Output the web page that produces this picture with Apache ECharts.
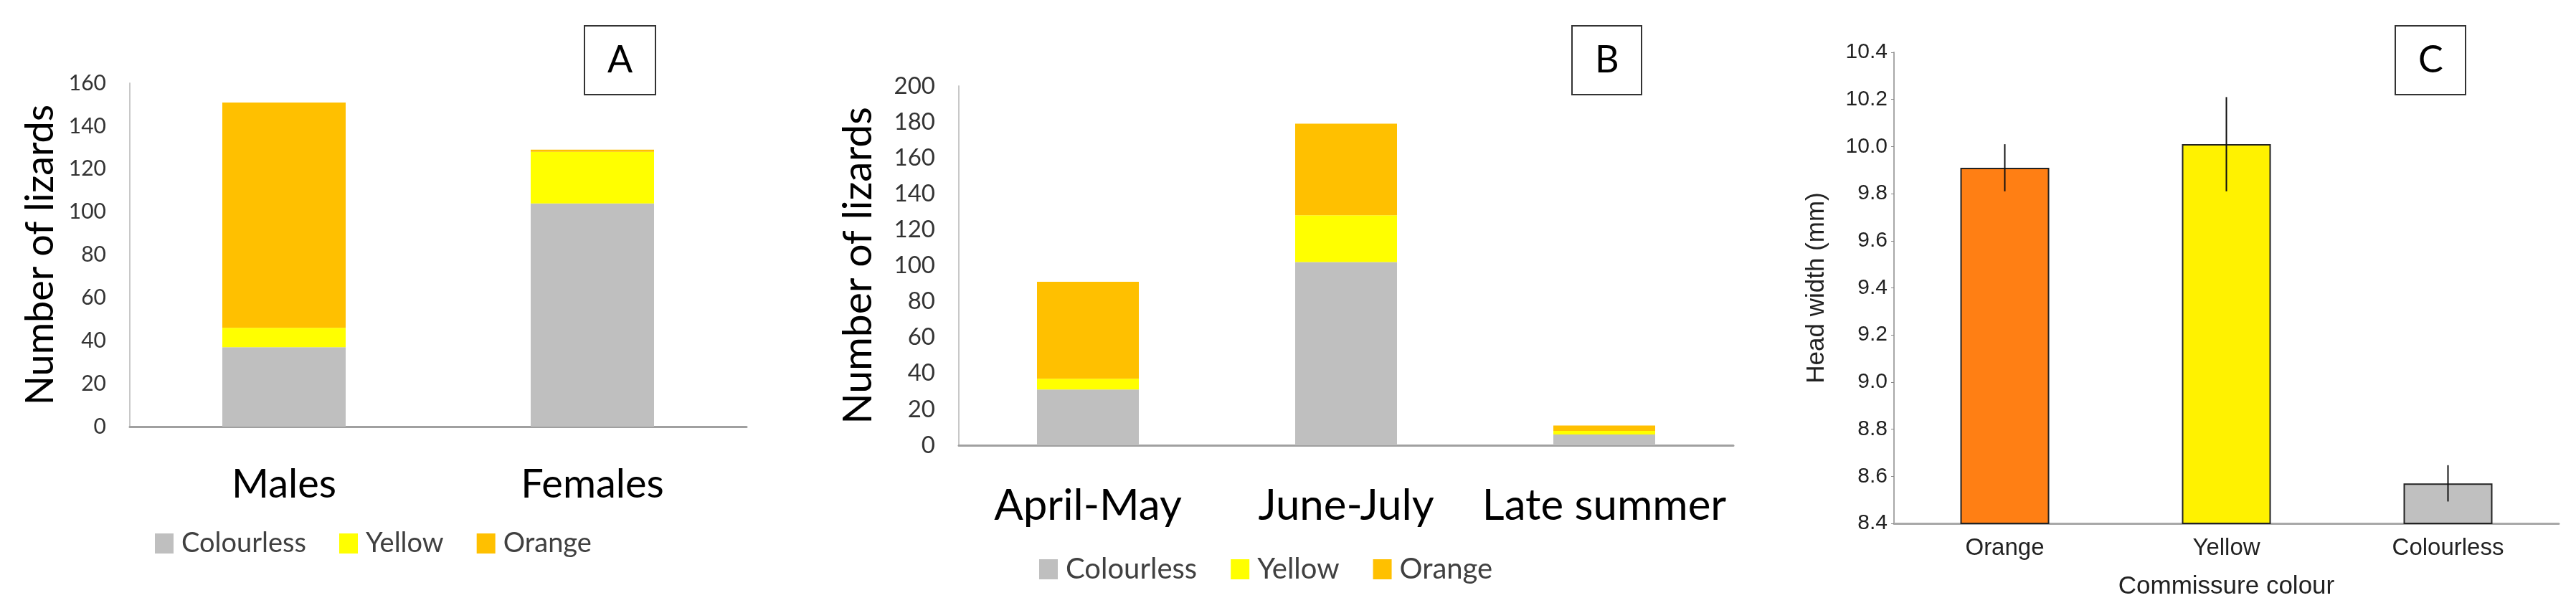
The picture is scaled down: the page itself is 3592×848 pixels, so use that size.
<!DOCTYPE html>
<html>
<head>
<meta charset="utf-8">
<script src="https://cdn.jsdelivr.net/npm/echarts@6/dist/echarts.min.js"></script>
<style>
  html, body { margin: 0; padding: 0; background: #fff; }
  #chart { width: 3592px; height: 848px; }
</style>
</head>
<body>
<div id="chart"></div>
<script>
// panel A: lizards by sex
var catA = ['Males', 'Females'];
var colourlessA = [37, 104];
var yellowA = [9, 24];
var orangeA = [105, 1];

// panel B: lizards by season
var catB = ['April-May', 'June-July', 'Late summer'];
var colourlessB = [31, 102, 6];
var yellowB = [6, 26, 2];
var orangeB = [54, 51, 3];

// panel C: head width by commissure colour (mean and error)
var catC = ['Orange', 'Yellow', 'Colourless'];
var meanC = [9.91, 10.01, 8.57];
var errC = [0.10, 0.20, 0.077];

var excelGrey = '#BFBFBF', excelYellow = '#FFFF00', excelOrange = '#FFC000';
var barColoursC = ['#FF7F14', '#FFF200', '#C0C0C0'];
var calibri = 'Lato';
var arial = 'Liberation Sans';

function countAxes(idx, cats, max, gapName, nameSize, catSize, catMargin, tickSize) {
  return {
    x: {
      type: 'category', gridIndex: idx, data: cats,
      axisLine: { lineStyle: { color: '#A0A0A0', width: 3 } },
      axisTick: { show: false },
      axisLabel: { interval: 0, fontFamily: calibri, fontSize: catSize, color: '#000', margin: catMargin }
    },
    y: {
      type: 'value', gridIndex: idx, min: 0, max: max, interval: 20,
      name: 'Number of lizards', nameLocation: 'middle', nameGap: gapName,
      nameTextStyle: { fontFamily: calibri, fontSize: nameSize, color: '#000' },
      axisLine: { show: true, lineStyle: { color: '#C8C8C8', width: 2 } },
      axisTick: { show: false },
      splitLine: { show: false },
      axisLabel: { fontFamily: calibri, fontSize: tickSize, color: '#333', margin: 33 }
    }
  };
}

var axA = countAxes(0, catA, 160, 97, 54, 56, 53, 30);
var axB = countAxes(1, catB, 200, 112, 57, 60, 55, 33);

function stackSeries(name, data, colour, idx, stack, width) {
  return {
    name: name, type: 'bar', stack: stack, xAxisIndex: idx, yAxisIndex: idx,
    data: data, barWidth: width, itemStyle: { color: colour }
  };
}

function boxTitle(letter, left) {
  return {
    text: letter, left: left, top: 36,
    borderColor: '#333', borderWidth: 2, padding: [21, 32],
    textStyle: { fontFamily: calibri, fontSize: 52, fontWeight: 'normal', color: '#000', lineHeight: 54 }
  };
}

function legendAt(left, top, size, gap) {
  return {
    data: ['Colourless', 'Yellow', 'Orange'], left: left, top: top,
    icon: 'rect', itemWidth: 26, itemHeight: 28, itemGap: gap,
    textStyle: { fontFamily: calibri, fontSize: size, color: '#404040', padding: [0, 0, 0, 6] }
  };
}

var myChart = echarts.init(document.getElementById('chart'));
var option = {
  backgroundColor: '#fff',
  animation: false,
  title: [boxTitle('A', 815), boxTitle('B', 2192), boxTitle('C', 3340)],
  legend: [legendAt(211, 734, 38, 46), legendAt(1444, 769, 40, 47)],
  grid: [
    { left: 181, top: 116, width: 860, height: 479 },
    { left: 1337, top: 120, width: 1080, height: 501 },
    { left: 2641, top: 73, width: 927, height: 657 }
  ],
  xAxis: [
    axA.x, axB.x,
    {
      type: 'category', gridIndex: 2, data: catC,
      name: 'Commissure colour', nameLocation: 'middle', nameGap: 71,
      nameTextStyle: { fontFamily: arial, fontSize: 35, color: '#222' },
      axisLine: { lineStyle: { color: '#A8A8A8', width: 3 } },
      axisTick: { alignWithLabel: true, inside: true, length: 6, lineStyle: { color: '#444' } },
      axisLabel: { interval: 0, fontFamily: arial, fontSize: 33, color: '#222', margin: 18 }
    }
  ],
  yAxis: [
    axA.y, axB.y,
    {
      type: 'value', gridIndex: 2, min: 8.4, max: 10.4, interval: 0.2,
      name: 'Head width (mm)', nameLocation: 'middle', nameGap: 90,
      nameTextStyle: { fontFamily: arial, fontSize: 35, color: '#222' },
      axisLine: { show: true, lineStyle: { color: '#A8A8A8', width: 2 } },
      axisTick: { show: true, length: 4, lineStyle: { color: '#888' } },
      splitLine: { show: false },
      axisLabel: {
        fontFamily: arial, fontSize: 30, color: '#222', margin: 9,
        formatter: function (v) { return v.toFixed(1); }
      }
    }
  ],
  series: [
    stackSeries('Colourless', colourlessA, excelGrey, 0, 'a', 172),
    stackSeries('Yellow', yellowA, excelYellow, 0, 'a', 172),
    stackSeries('Orange', orangeA, excelOrange, 0, 'a', 172),
    stackSeries('Colourless', colourlessB, excelGrey, 1, 'b', 142),
    stackSeries('Yellow', yellowB, excelYellow, 1, 'b', 142),
    stackSeries('Orange', orangeB, excelOrange, 1, 'b', 142),
    {
      name: 'Head width', type: 'bar', xAxisIndex: 2, yAxisIndex: 2, barWidth: 124,
      data: meanC.map(function (v, i) {
        return { value: v, itemStyle: { color: barColoursC[i], borderColor: '#222', borderWidth: 2 } };
      })
    },
    {
      name: 'Error', type: 'custom', xAxisIndex: 2, yAxisIndex: 2, z: 10,
      data: catC.map(function (c, i) { return [i, meanC[i], errC[i]]; }),
      renderItem: function (params, api) {
        var hi = api.coord([api.value(0), api.value(1) + api.value(2)]);
        var lo = api.coord([api.value(0), api.value(1) - api.value(2)]);
        return {
          type: 'line',
          shape: { x1: hi[0], y1: hi[1], x2: lo[0], y2: lo[1] },
          style: { stroke: '#111', lineWidth: 2 }
        };
      }
    }
  ]
};
myChart.setOption(option);
</script>
</body>
</html>
